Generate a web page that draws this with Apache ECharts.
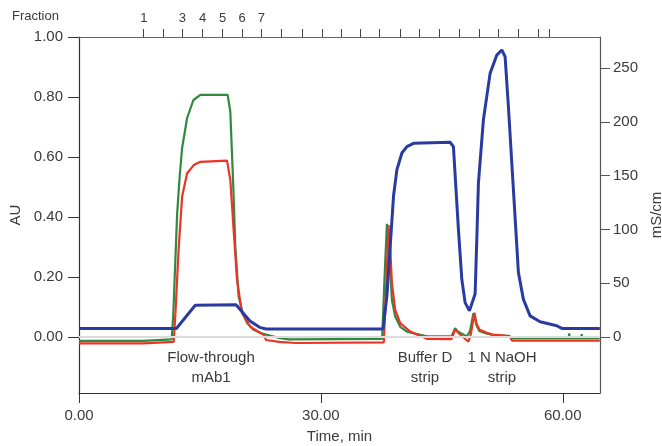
<!DOCTYPE html>
<html>
<head>
<meta charset="utf-8">
<script src="https://cdn.jsdelivr.net/npm/echarts@6/dist/echarts.min.js"></script>
<style>
html,body{margin:0;padding:0;background:#fff;}
#chart{width:662px;height:446px;}
</style>
</head>
<body>
<div id="chart"></div>
<script>
// ---- Data (time in min) ----
const greenTime = [0, 7.9, 8.0, 11.5, 11.7, 12.17, 12.5, 12.79, 13.41, 14.19, 15.06, 18.44, 18.77, 19.11, 19.39, 19.8, 20.3, 20.84, 21.6, 22.49, 24.97, 26, 37.6, 37.9, 38.19, 38.4, 38.6, 38.81, 39.22, 39.84, 40.67, 42.32, 43.15, 46.2, 46.65, 47.0, 48.1, 48.5, 48.92, 49.3, 49.65, 50.5, 51.3, 53.4, 53.6, 60.75, 60.8, 60.85, 62.3, 62.35, 62.4, 64.6];
const greenAU   = [-0.013, -0.013, -0.008, -0.008, 0.08, 0.41, 0.54, 0.63, 0.73, 0.79, 0.807, 0.807, 0.75, 0.52, 0.30, 0.134, 0.08, 0.047, 0.025, 0.013, -0.004, -0.008, -0.006, 0.2, 0.377, 0.33, 0.234, 0.123, 0.068, 0.034, 0.018, 0.007, 0.002, 0.002, 0.029, 0.018, 0.002, 0.02, 0.079, 0.04, 0.02, 0.012, 0.007, 0.003, -0.004, -0.004, 0.012, -0.004, -0.004, 0.01, -0.004, -0.004];

const redTime = [0, 7.9, 8.0, 11.75, 11.96, 12.37, 12.79, 13.41, 14.23, 15.06, 18.36, 18.77, 19.18, 19.6, 20.22, 21.25, 22.9, 23.2, 24.85, 26.9, 37.8, 38.0, 38.39, 38.6, 38.81, 39.22, 39.84, 41.08, 43.15, 46.2, 46.65, 47.2, 48.3, 48.6, 49.05, 49.3, 49.65, 50.5, 51.3, 53.4, 53.7, 64.6];
const redAU   = [-0.021, -0.021, -0.016, -0.016, 0.079, 0.30, 0.468, 0.546, 0.573, 0.584, 0.588, 0.523, 0.357, 0.19, 0.079, 0.034, 0.007, -0.01, -0.016, -0.02, -0.018, 0.1, 0.373, 0.3, 0.179, 0.09, 0.046, 0.018, -0.006, -0.007, 0.025, 0.01, -0.016, 0.01, 0.081, 0.045, 0.025, 0.015, 0.008, 0.003, -0.012, -0.012];

const blueTime = [0, 12.08, 14.42, 19.48, 20.3, 21.2, 22.4, 23.2, 37.7, 38.19, 38.6, 39.01, 39.43, 40.05, 40.67, 41.49, 46.03, 46.44, 47.06, 47.48, 47.89, 48.43, 49.13, 49.34, 49.54, 50.16, 50.99, 51.82, 52.44, 52.85, 53.26, 53.88, 54.5, 55.12, 55.95, 57.19, 59.26, 59.88, 64.6];
const blueMS   = [8, 8, 29.5, 30, 22.8, 15, 9, 7.5, 7.5, 38, 84.5, 131, 155.6, 171, 177, 180, 181, 177, 100, 53.7, 32, 24.4, 40, 90.7, 143, 202, 245, 262, 266.7, 260.5, 214, 137, 60, 35, 19.7, 14.2, 10.5, 8, 8];

const fractionTicks  = [8.03, 10.43, 12.83, 15.34, 17.82, 20.22, 22.61, 25.09, 27.66, 30.14, 32.49, 34.88, 37.24, 39.84, 42.19, 44.67, 47.15, 49.63, 51.98, 54.46, 56.94, 58.3];
const fractionLabels = ['1', '', '3', '4', '5', '6', '7', '', '', '', '', '', '', '', '', '', '', '', '', '', '', ''];

const timeTicks = [0, 30, 60];
const auTicks = [0, 0.2, 0.4, 0.6, 0.8, 1.0];
const msTicks = [0, 50, 100, 150, 200, 250];

const annotations = [
  { text: 'Flow-through\nmAb1', x: 211 },
  { text: 'Buffer D\nstrip', x: 425 },
  { text: '1 N NaOH\nstrip', x: 502 }
];

const pair = (xs, ys) => xs.map((x, i) => [x, ys[i]]);
const FONT = 'Liberation Sans';
const TXT = '#3a3a3a';

const chart = echarts.init(document.getElementById('chart'), null, { renderer: 'canvas' });
chart.setOption({
  animation: false,
  backgroundColor: '#fff',
  textStyle: { fontFamily: FONT },
  grid: { left: 79, right: 62, top: 37, bottom: 53, containLabel: false, outerBoundsMode: 'none' },
  xAxis: [
    {
      type: 'value', position: 'bottom', min: 0, max: 64.62,
      name: 'Time, min', nameLocation: 'middle', nameGap: 36,
      nameTextStyle: { fontFamily: FONT, fontSize: 15, color: TXT },
      axisLine: { show: true, onZero: false, lineStyle: { color: '#333', width: 1.2 } },
      axisTick: { show: true, length: 10, customValues: timeTicks, lineStyle: { color: '#333' } },
      axisLabel: { customValues: timeTicks, margin: 15, fontSize: 15, color: TXT, fontFamily: FONT,
        formatter: v => v.toFixed(2) },
      splitLine: { show: false }
    },
    {
      type: 'value', position: 'top', min: 0, max: 64.62,
      axisLine: { show: true, onZero: false, lineStyle: { color: '#666', width: 1.2 } },
      axisTick: { show: true, length: 8, customValues: fractionTicks, lineStyle: { color: '#444' } },
      axisLabel: { customValues: fractionTicks.filter((t, i) => fractionLabels[i] !== ''), margin: 12,
        fontSize: 13, color: TXT, fontFamily: FONT,
        formatter: v => fractionLabels[fractionTicks.indexOf(v)] },
      splitLine: { show: false }
    }
  ],
  yAxis: [
    {
      type: 'value', position: 'left', min: -0.1867, max: 1.0,
      name: 'AU', nameLocation: 'middle', nameGap: 51, nameRotate: 90,
      nameTextStyle: { fontFamily: FONT, fontSize: 15, color: TXT },
      axisLine: { show: true, onZero: false, lineStyle: { color: '#333', width: 1.2 } },
      axisTick: { show: true, length: 11, customValues: auTicks, lineStyle: { color: '#333' } },
      axisLabel: { customValues: auTicks, margin: 16, fontSize: 15, color: TXT, fontFamily: FONT,
        formatter: v => v.toFixed(2) },
      splitLine: { show: false }
    },
    {
      type: 'value', position: 'right', min: -52.0, max: 278.8,
      name: 'mS/cm', nameLocation: 'middle', nameGap: 36, nameRotate: 90,
      nameTextStyle: { fontFamily: FONT, fontSize: 15, color: TXT },
      axisLine: { show: true, onZero: false, lineStyle: { color: '#555', width: 1.2 } },
      axisTick: { show: true, length: 10, customValues: msTicks, lineStyle: { color: '#555' } },
      axisLabel: { customValues: msTicks, margin: 13, fontSize: 15, color: TXT, fontFamily: FONT,
        formatter: v => String(Math.round(v)) },
      splitLine: { show: false }
    }
  ],
  series: [
    {
      name: 'Green', type: 'line', xAxisIndex: 0, yAxisIndex: 0, z: 2,
      data: pair(greenTime, greenAU), showSymbol: false, symbol: 'none',
      lineStyle: { color: '#2f8a3f', width: 2.2 },
      markLine: { silent: true, symbol: 'none', label: { show: false },
        lineStyle: { color: '#dcdcdc', width: 2, type: 'solid' }, data: [{ yAxis: 0 }] }
    },
    {
      name: 'Red', type: 'line', xAxisIndex: 0, yAxisIndex: 0, z: 3,
      data: pair(redTime, redAU), showSymbol: false, symbol: 'none',
      lineStyle: { color: '#ee3326', width: 2.2 }
    },
    {
      name: 'Blue', type: 'line', xAxisIndex: 0, yAxisIndex: 1, z: 4,
      data: pair(blueTime, blueMS), showSymbol: false, symbol: 'none',
      lineStyle: { color: '#2a3b9f', width: 3 }
    }
  ],
  graphic: [
    { type: 'text', left: 12, top: 10, style: { text: 'Fraction', font: '13px "Liberation Sans"', fill: TXT } }
  ].concat(annotations.map(a => ({
    type: 'text', x: a.x, y: 348,
    style: { text: a.text, font: '15px "Liberation Sans"', fill: TXT, align: 'center', verticalAlign: 'top', lineHeight: 20 }
  })))
});
</script>
</body>
</html>
